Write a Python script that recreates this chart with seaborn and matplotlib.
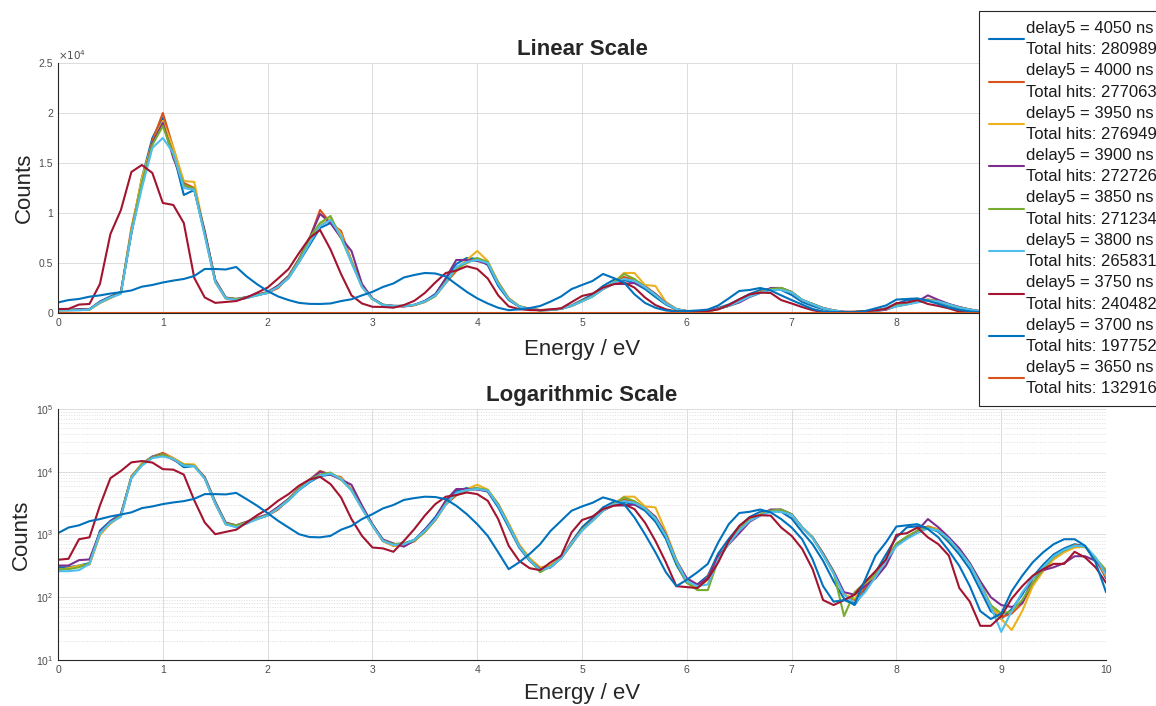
import matplotlib
matplotlib.use("Agg")
import matplotlib.pyplot as plt
import matplotlib.ticker as mticker
import numpy as np
import pandas as pd
import seaborn as sns

# Energy bins (0 to 10 eV, 0.1 eV steps)
energy = np.linspace(0, 10, 101)

delays = [4050, 4000, 3950, 3900, 3850, 3800, 3750, 3700, 3650]
total_hits = [280989, 277063, 276949, 272726, 271234, 265831, 240482, 197752, 132916]

# counts per bin
counts_4050 = [300, 300, 320, 350, 1150, 1650, 2100, 8000, 13500, 17500,
               19500, 16000, 11800, 12300, 8000, 3300, 1500, 1350, 1500, 1800,
               2000, 2600, 3500, 5100, 6800, 8500, 9000, 7800, 5200, 2700,
               1450, 820, 700, 720, 820, 1200, 1900, 3400, 4900, 5500,
               5400, 4800, 2700, 1300, 620, 380, 270, 300, 420, 760,
               1300, 1850, 2700, 3300, 3300, 3000, 2400, 1600, 850, 330,
               170, 160, 220, 500, 850, 1350, 1900, 2300, 2400, 2300,
               1800, 1100, 700, 380, 180, 95, 75, 130, 250, 480,
               900, 1300, 1350, 1300, 1100, 750, 480, 280, 130, 60,
               45, 65, 110, 210, 330, 480, 600, 700, 650, 420,
               200]
counts_4000 = [270, 290, 310, 340, 1000, 1500, 2000, 8500, 13200, 17200,
               20000, 16500, 13000, 12500, 7900, 3100, 1450, 1350, 1550, 1800,
               2000, 2500, 3600, 5300, 7400, 10300, 9000, 8200, 5200, 2700,
               1400, 780, 660, 680, 780, 1100, 1700, 3000, 4200, 5300,
               5300, 5000, 3000, 1450, 680, 410, 290, 320, 440, 740,
               1200, 1700, 2400, 3000, 3600, 3300, 2700, 1900, 1000, 380,
               170, 140, 210, 440, 720, 1200, 1700, 2050, 2350, 2450,
               2050, 1300, 880, 480, 240, 110, 90, 140, 210, 380,
               680, 880, 1100, 1350, 1200, 850, 560, 340, 160, 70,
               48, 55, 80, 160, 270, 420, 540, 680, 640, 400,
               210]
counts_3950 = [270, 290, 320, 330, 1000, 1500, 2000, 8200, 13500, 17000,
               19200, 16500, 13200, 13100, 8000, 3200, 1500, 1400, 1550, 1750,
               2050, 2700, 3700, 5400, 7300, 8800, 9400, 7900, 5200, 2700,
               1400, 790, 660, 690, 780, 1150, 1700, 3100, 4400, 5300,
               6200, 5200, 3100, 1500, 700, 420, 300, 320, 430, 720,
               1150, 1650, 2400, 3000, 4000, 4000, 2800, 2700, 1100, 400,
               190, 140, 190, 420, 720, 1150, 1700, 2100, 2400, 2450,
               2100, 1300, 900, 500, 250, 110, 95, 160, 230, 390,
               680, 870, 1100, 1300, 1200, 850, 560, 350, 170, 75,
               45, 30, 60, 150, 260, 400, 520, 620, 640, 420,
               220]
counts_3900 = [320, 320, 390, 400, 1100, 1600, 2100, 8000, 12800, 17000,
               19000, 15500, 12800, 12300, 8200, 3300, 1550, 1400, 1600, 1850,
               2100, 2750, 3700, 5400, 7500, 9900, 9000, 7500, 6200, 2900,
               1450, 830, 720, 640, 800, 1200, 1800, 3500, 5300, 5300,
               5200, 4900, 3000, 1400, 650, 390, 280, 300, 420, 700,
               1200, 1700, 2400, 2900, 2900, 3000, 2600, 1900, 1000, 380,
               200, 160, 200, 450, 700, 1050, 1600, 2000, 2500, 2500,
               2100, 1300, 900, 500, 260, 120, 110, 150, 200, 320,
               700, 900, 1150, 1760, 1300, 900, 600, 350, 180, 100,
               75, 70, 80, 200, 270, 300, 350, 450, 450, 380,
               250]
counts_3850 = [280, 280, 300, 350, 1050, 1550, 2000, 8200, 13000, 16800,
               18700, 15800, 12800, 12400, 7900, 3200, 1500, 1400, 1550, 1800,
               2050, 2600, 3600, 5300, 7500, 9000, 9700, 7500, 5100, 2600,
               1400, 800, 700, 720, 800, 1100, 1700, 3100, 4400, 5000,
               5500, 5100, 3000, 1400, 650, 400, 250, 310, 420, 700,
               1200, 1650, 2400, 3000, 3900, 3400, 2600, 1800, 950, 360,
               170, 130, 130, 400, 720, 1200, 1700, 2050, 2400, 2500,
               2100, 1300, 900, 480, 250, 50, 120, 170, 230, 400,
               720, 930, 1150, 1300, 1150, 820, 540, 330, 160, 75,
               55, 60, 90, 170, 280, 440, 560, 660, 640, 420,
               270]
counts_3800 = [260, 260, 270, 340, 1050, 1550, 1900, 8000, 12500, 16500,
               17500, 16000, 12500, 12300, 7700, 3100, 1450, 1300, 1500, 1750,
               2000, 2600, 3500, 5100, 7000, 8700, 9300, 7700, 5000, 2600,
               1380, 790, 680, 700, 820, 1150, 1750, 3000, 4600, 5100,
               5300, 5000, 2900, 1400, 650, 390, 270, 300, 420, 720,
               1150, 1650, 2400, 3000, 3400, 3200, 2600, 1800, 950, 380,
               180, 150, 160, 400, 720, 1150, 1650, 2000, 2300, 2300,
               2050, 1300, 880, 470, 240, 110, 80, 120, 210, 380,
               650, 850, 1050, 1250, 1150, 850, 540, 330, 160, 70,
               28, 60, 120, 200, 300, 450, 570, 660, 650, 430,
               230]
counts_3750 = [395, 410, 840, 900, 2900, 7900, 10300, 14100, 14800, 14000,
               11000, 10800, 9000, 3500, 1550, 1010, 1100, 1190, 1550, 2030,
               2540, 3450, 4400, 6000, 7500, 8300, 6350, 3900, 1760, 950,
               620, 600, 530, 790, 1220, 2000, 3050, 4000, 4240, 4670,
               4400, 3450, 1760, 660, 380, 290, 270, 360, 460, 1080,
               1700, 1940, 2540, 2870, 3050, 2540, 1550, 790, 360, 150,
               145, 140, 195, 360, 790, 1370, 1870, 2030, 2000, 1290,
               950, 590, 280, 90, 75, 90, 110, 175, 260, 400,
               990, 1050, 1290, 900, 700, 460, 140, 85, 35, 35,
               50, 95, 150, 220, 280, 340, 340, 530, 430, 300,
               170]
counts_3700 = [1050, 1290, 1400, 1630, 1760, 1940, 2080, 2250, 2630, 2800,
               3050, 3240, 3400, 3700, 4400, 4400, 4350, 4600, 3650, 2870,
               2190, 1650, 1290, 1010, 910, 900, 950, 1190, 1370, 1760,
               2110, 2600, 2950, 3550, 3800, 4000, 3950, 3650, 2870, 2110,
               1460, 950, 520, 280, 360, 490, 700, 1140, 1650, 2390,
               2800, 3200, 3900, 3500, 3050, 1870, 1010, 520, 250, 150,
               190, 250, 340, 750, 1460, 2200, 2300, 2500, 2250, 1760,
               1290, 840, 400, 150, 85, 90, 78, 190, 460, 750,
               1340, 1400, 1460, 1220, 900, 550, 315, 150, 60, 45,
               55, 125, 220, 360, 520, 700, 840, 840, 660, 360,
               120]
counts_3650 = [0] * 101

all_counts = [counts_4050, counts_4000, counts_3950, counts_3900, counts_3850,
              counts_3800, counts_3750, counts_3700, counts_3650]

# MATLAB default colour order
colors = ['#0072BD', '#D95319', '#EDB120', '#7E2F8E', '#77AC30',
          '#4DBEEE', '#A2142F', '#0072BD', '#D95319']

labels = [f"delay5 = {d} ns\nTotal hits: {h}" for d, h in zip(delays, total_hits)]

frames = []
for lab, c in zip(labels, all_counts):
    frames.append(pd.DataFrame({'Energy': energy, 'Counts': c, 'Series': lab}))
df = pd.concat(frames, ignore_index=True)

sns.set_style("white")
plt.rcParams['font.family'] = ['Liberation Sans', 'DejaVu Sans']

fig = plt.figure(figsize=(11.56, 7.06), dpi=100)
ax1 = fig.add_axes([0.0502, 0.5567, 0.9066, 0.3541])
ax2 = fig.add_axes([0.0502, 0.0652, 0.9066, 0.3555])

axis_col = '#262626'
for ax, show_leg in ((ax1, True), (ax2, False)):
    sns.lineplot(data=df, x='Energy', y='Counts', hue='Series', hue_order=labels,
                 palette=colors, estimator=None, sort=False, lw=1.5, ax=ax,
                 legend=show_leg)
    ax.set_xlim(0, 10)
    ax.set_xticks(range(0, 11))
    ax.set_axisbelow(True)
    ax.grid(True, which='major', color='#dcdcdc', lw=0.7)
    for s in ('top', 'right'):
        ax.spines[s].set_visible(False)
    for s in ('left', 'bottom'):
        ax.spines[s].set_color(axis_col)
        ax.spines[s].set_linewidth(0.8)
    ax.tick_params(which='both', direction='in', colors=axis_col, labelcolor='#4d4d4d',
                   labelsize=7.5, length=5, width=0.8)
    ax.set_ylabel('Counts', fontsize=16, color=axis_col, labelpad=3)

ax1.set_xlabel('Energy / eV', fontsize=16, color=axis_col, labelpad=8)
ax2.set_xlabel('Energy / eV', fontsize=16, color=axis_col, labelpad=6)

# linear panel
ax1.set_ylim(0, 25000)
ax1.set_yticks([0, 5000, 10000, 15000, 20000, 25000])
ax1.yaxis.set_major_formatter(mticker.FuncFormatter(lambda v, p: f"{v / 1e4:g}"))
ax1.text(0.0, 1.005, r'$\times10^4$', transform=ax1.transAxes, fontsize=7.5,
         color='#4d4d4d', ha='left', va='bottom')
ax1.set_title('Linear Scale', fontsize=16, fontweight='bold', pad=6)
# the "10" tick label of the top panel sits under the legend
ax1.get_xticklabels()[-1].set_visible(False)

# log panel
ax2.set_yscale('log', nonpositive='mask')
ax2.set_ylim(10, 1e5)
ax2.yaxis.set_major_locator(mticker.LogLocator(base=10, numticks=10))
ax2.yaxis.set_minor_locator(mticker.LogLocator(base=10, subs=np.arange(2, 10), numticks=20))
ax2.yaxis.set_minor_formatter(mticker.NullFormatter())
ax2.tick_params(which='minor', length=3)
ax2.grid(True, which='minor', axis='y', color='#dedede', ls=':', lw=0.7)
ax2.set_title('Logarithmic Scale', fontsize=16, fontweight='bold', pad=6)

# legend overlaid at top right (runs off the figure edge like the original)
old = ax1.get_legend()
handles = old.legend_handles
texts = [t.get_text() for t in old.get_texts()]
old.remove()
leg = fig.legend(handles, texts, loc='upper left',
                 bbox_to_anchor=(979 / 1156, 1 - 11 / 706), frameon=True,
                 fancybox=False, edgecolor=axis_col, framealpha=1, fontsize=12,
                 handlelength=2.1, handletextpad=0.15, labelspacing=0.36,
                 borderpad=0.6, borderaxespad=0)
leg.get_frame().set_linewidth(0.8)
for t in leg.get_texts():
    t.set_linespacing(1.53)
    t.set_color('#1a1a1a')
for h in leg.legend_handles:
    h.set_linewidth(1.5)

fig.savefig('out.png', dpi=100)
